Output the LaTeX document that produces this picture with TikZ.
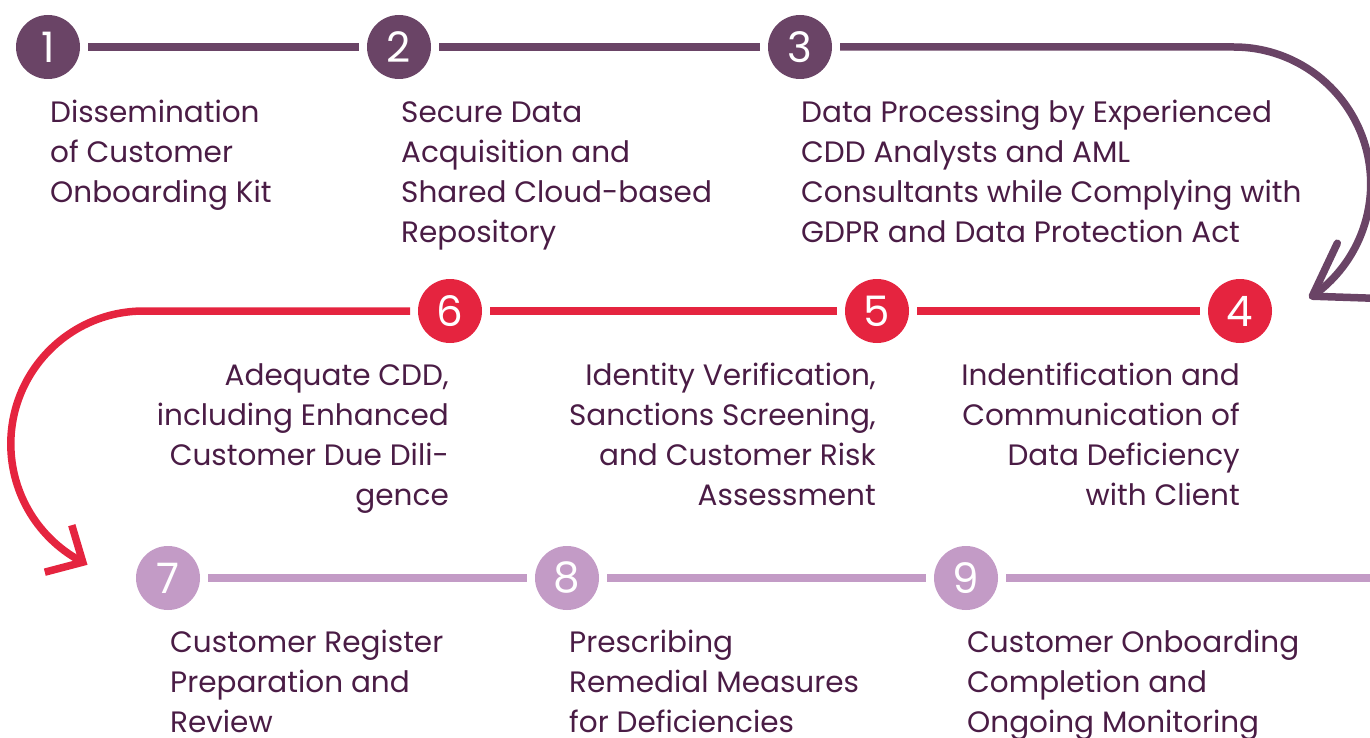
\documentclass[tikz,border=0pt]{standalone}
\usepackage{fontspec}
\setmainfont{Poppins}
\definecolor{cdark}{HTML}{6A4466}
\definecolor{cred}{HTML}{E5243F}
\definecolor{clight}{HTML}{C39BC6}
\definecolor{ctext}{HTML}{4A1C45}
\begin{document}
\begin{tikzpicture}[x=1pt,y=-1pt,
  num/.style={circle, inner sep=0pt, minimum size=64pt, outer sep=8pt, text=white,
    font=\fontsize{42}{42}\selectfont},
  pnum/.style={num, fill=cdark},
  rnum/.style={num, fill=cred},
  lnum/.style={num, fill=clight},
  conn/.style={line width=7.5pt},
  pline/.style={conn, draw=cdark},
  rline/.style={conn, draw=cred},
  lline/.style={conn, draw=clight},
  lbl/.style={inner sep=0pt, text=ctext, font=\fontsize{29.5}{40}\selectfont},
  lbll/.style={lbl, anchor=base west},
  lblr/.style={lbl, anchor=base east}
]
\useasboundingbox (0,0) rectangle (1370,738);

% number circles
\node[pnum] (n1) at (48,47) {1};
\node[pnum] (n2) at (399,47) {2};
\node[pnum] (n3) at (800,47) {3};
\node[rnum] (n4) at (1240,311) {4};
\node[rnum] (n5) at (877,311) {5};
\node[rnum] (n6) at (450,311) {6};
\node[lnum] (n7) at (168,578) {7};
\node[lnum] (n8) at (567,578) {8};
\node[lnum] (n9) at (966,578) {9};

% connectors row 1
\draw[pline] (n1) -- (n2);
\draw[pline] (n2) -- (n3);
\draw[pline] (n3) -- (1233.7,47) arc[start angle=-90, end angle=55, radius=137] coordinate (t1);
\draw[pline, line cap=round, line join=round] (t1) ++(25,-53) -- (t1) -- ++(60,2);

% connectors row 2
\draw[rline] (n4) -- (n5);
\draw[rline] (n5) -- (n6);
\draw[rline] (n6) -- (143.8,311) arc[start angle=270, end angle=117.3, radius=133] coordinate (t2);
\draw[rline, line join=miter] (t2) ++(-11,-37) -- (t2) -- ++(-38,10);

% connectors row 3
\coordinate (rowend) at (1380,578);
\draw[lline] (n7) -- (n8);
\draw[lline] (n8) -- (n9);
\draw[lline] (n9) -- (rowend);

% labels
\node[lbll] (l1) at (50,123) {\begin{tabular}[t]{@{}l@{}}Dissemination\\ of Customer\\ Onboarding Kit\end{tabular}};
\node[lbll] (l2) at (401,123) {\begin{tabular}[t]{@{}l@{}}Secure Data\\ Acquisition and\\ Shared Cloud-based\\ Repository\end{tabular}};
\node[lbll] (l3) at (801,123) {\begin{tabular}[t]{@{}l@{}}Data Processing by Experienced\\ CDD Analysts and AML\\ Consultants while Complying with\\ GDPR and Data Protection Act\end{tabular}};
\node[lblr] (l6) at (449,385) {\begin{tabular}[t]{@{}r@{}}Adequate CDD,\\ including Enhanced\\ Customer Due Dili-\\ gence\end{tabular}};
\node[lblr] (l5) at (876,385) {\begin{tabular}[t]{@{}r@{}}Identity Verification,\\ Sanctions Screening,\\ and Customer Risk\\ Assessment\end{tabular}};
\node[lblr] (l4) at (1240,385) {\begin{tabular}[t]{@{}r@{}}Indentification and\\ Communication of\\ Data Deficiency\\ with Client\end{tabular}};
\node[lbll] (l7) at (170,652) {\begin{tabular}[t]{@{}l@{}}Customer Register\\ Preparation and\\ Review\end{tabular}};
\node[lbll] (l8) at (569,652) {\begin{tabular}[t]{@{}l@{}}Prescribing\\ Remedial Measures\\ for Deficiencies\end{tabular}};
\node[lbll] (l9) at (967,652) {\begin{tabular}[t]{@{}l@{}}Customer Onboarding\\ Completion and\\ Ongoing Monitoring\end{tabular}};
\end{tikzpicture}
\end{document}
